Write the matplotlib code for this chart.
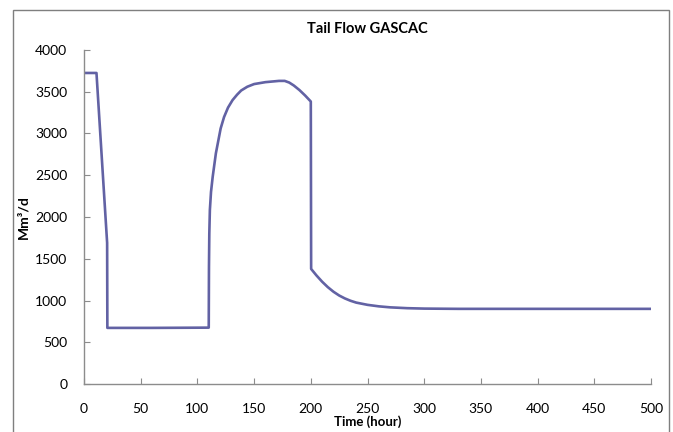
import matplotlib
matplotlib.use('Agg')
import matplotlib.pyplot as plt
from matplotlib.patches import Rectangle

plt.rcParams['font.family'] = ['Lato', 'DejaVu Sans']

# Tail flow readings
time_h = [0, 11, 20.4, 20.6, 60, 110, 110.2, 110.5, 111, 112, 113.5, 116.3, 120.5,
          123.5, 127, 131, 135, 138.6, 144, 150, 160, 172, 177, 181, 185, 190, 195, 200,
          200.3, 205, 210, 215, 220, 225, 230, 235, 240, 250, 260, 270, 285, 300,
          330, 400, 450, 500]
flow = [3725, 3725, 1690, 672, 672, 675, 1400, 1800, 2084, 2300, 2483, 2763, 3060,
        3197, 3310, 3400, 3465, 3515, 3560, 3592, 3615, 3630, 3630, 3610, 3575, 3520,
        3455, 3383,
        1378, 1300, 1225, 1160, 1105, 1060, 1025, 997, 975, 948, 930, 918, 908, 903,
        900, 900, 900, 900]

fig = plt.figure(figsize=(6.73, 4.32), dpi=100)
fig.patches.append(Rectangle((13 / 673, -0.1), (669 - 13) / 673, 1.1 - 10 / 432,
                             transform=fig.transFigure, fill=False,
                             edgecolor='#7f7f7f', linewidth=1.0))

ax = fig.add_axes([84 / 673, 1 - 384 / 432, (651 - 84) / 673, (384 - 50) / 432])
ax.plot(time_h, flow, color='#6262a4', linewidth=1.9, solid_joinstyle='round')

ax.set_xlim(0, 500)
ax.set_ylim(0, 4000)
ax.set_xticks(range(0, 501, 50))
ax.set_yticks(range(0, 4001, 500))
for s in ['top', 'right']:
    ax.spines[s].set_visible(False)
for s in ['left', 'bottom']:
    ax.spines[s].set_color('#8c8c8c')
    ax.spines[s].set_linewidth(1.0)
ax.tick_params(direction='in', length=4, color='#8c8c8c', labelsize=10)
ax.tick_params(axis='x', pad=14)
ax.tick_params(axis='y', pad=12)

ax.set_title('Tail Flow GASCAC', fontsize=10.5, fontweight='bold', pad=12)
ax.set_xlabel('Time (hour)', fontsize=9.5, fontweight='bold', labelpad=0)
ax.set_ylabel('Mm³/d', fontsize=10, fontweight='bold', labelpad=4)

fig.savefig('out.png', dpi=100)
